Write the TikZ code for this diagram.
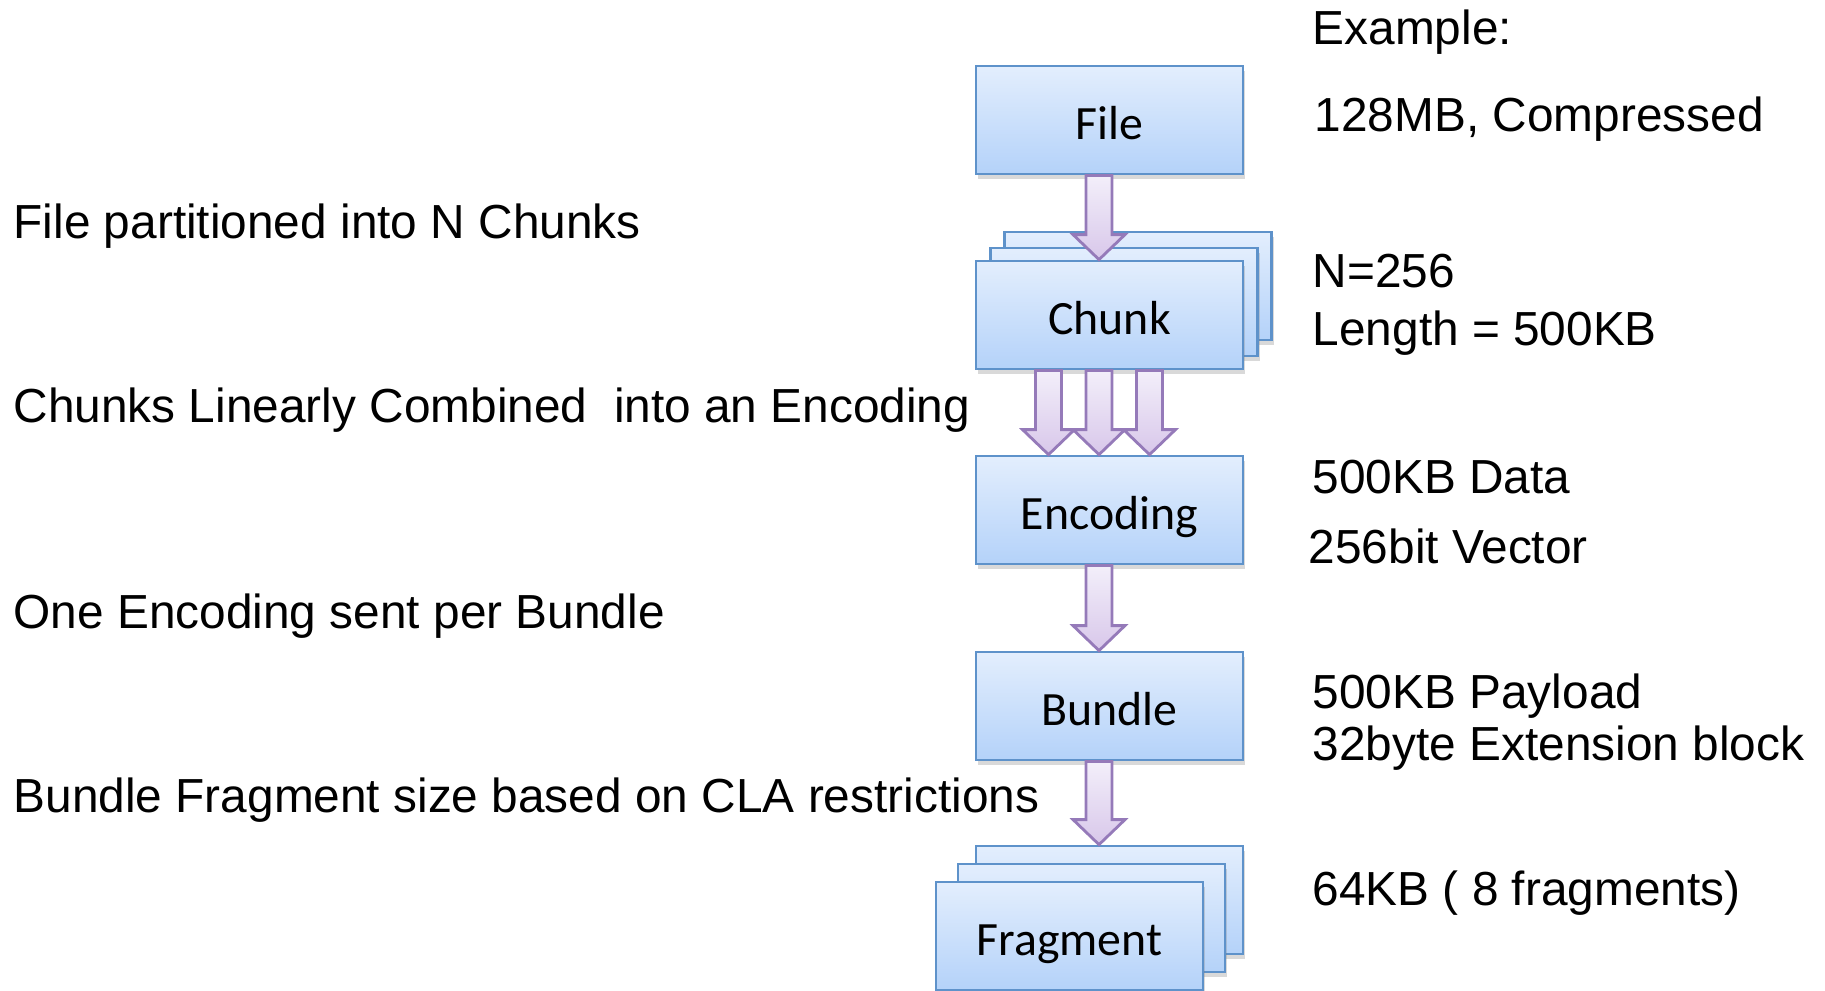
\documentclass[tikz,border=0pt]{standalone}
\usepackage{fontspec}
\setmainfont{Liberation Sans}
\newfontfamily\boxfont{Carlito}
\usetikzlibrary{calc,shadows}

\definecolor{boxtop}{HTML}{E3EEFD}
\definecolor{boxbot}{HTML}{B4D2F9}
\definecolor{boxline}{HTML}{5E92CA}
\definecolor{arrtop}{HTML}{F3EFFA}
\definecolor{arrbot}{HTML}{D8C7EA}
\definecolor{arrline}{HTML}{957AB9}

% fat block arrow from #1 straight down to the level of #2
\newcommand{\blockarrow}[2]{%
  \path[blockarr] let \p1=(#1), \p2=(#2) in
    (\x1-0.13cm,\y1) -- (\x1-0.13cm,\y2+0.25cm) -- (\x1-0.26cm,\y2+0.25cm)
    -- (\x1,\y2) -- (\x1+0.26cm,\y2+0.25cm) -- (\x1+0.13cm,\y2+0.25cm)
    -- (\x1+0.13cm,\y1) -- cycle;}

\begin{document}
\begin{tikzpicture}[
  stage/.style={draw=boxline, line width=0.8pt, top color=boxtop, bottom color=boxbot,
    minimum width=2.67cm, minimum height=1.08cm, inner sep=0pt,
    text height=0.47cm, text depth=0.08cm,
    font=\boxfont\fontsize{13.6pt}{16pt}\selectfont,
    drop shadow={opacity=0.3, shadow xshift=0.6pt, shadow yshift=-1.4pt}},
  blockarr/.style={draw=arrline, line width=0.8pt, top color=arrtop, bottom color=arrbot},
  note/.style={anchor=base west, inner sep=0pt, font=\fontsize{13.6pt}{16pt}\selectfont}]
\useasboundingbox (0,0) rectangle (18.25,-9.90);

% stages
\node[stage] (file) at (11.095,-1.20) {File};
\node[stage] (chunkc) at (11.38,-2.86) {};
\node[stage] (chunkb) at (11.24,-3.02) {};
\node[stage] (chunk) at (11.095,-3.15) {Chunk};
\node[stage] (enc) at (11.095,-5.10) {Encoding};
\node[stage] (bundle) at (11.095,-7.06) {Bundle};
\node[stage] (fragc) at (11.095,-9.00) {};
\node[stage] (fragb) at (10.915,-9.18) {};
\node[stage] (frag) at (10.695,-9.36) {Fragment};

% arrows
\blockarrow{$(file.south)+(-0.105,0)$}{chunk.north}
\blockarrow{$(chunk.south)+(-0.61,0)$}{enc.north}
\blockarrow{$(chunk.south)+(-0.105,0)$}{enc.north}
\blockarrow{$(chunk.south)+(0.40,0)$}{enc.north}
\blockarrow{$(enc.south)+(-0.105,0)$}{bundle.north}
\blockarrow{$(bundle.south)+(-0.105,0)$}{fragc.north}

% steps on the left
\node[note] (txtpart) at (0.13,-2.38) {File partitioned into N Chunks};
\node[note] (txtcomb) at (0.13,-4.22) {Chunks Linearly Combined\ \ into an Encoding};
\node[note] (txtsend) at (0.13,-6.28) {One Encoding sent per Bundle};
\node[note] (txtfrag) at (0.13,-8.12) {Bundle Fragment size based on CLA restrictions};

% example values on the right
\node[note] (exhead) at (13.12,-0.44) {Example:};
\node[note] (exfile) at (13.14,-1.31) {128MB, Compressed};
\node[note] (exn) at (13.12,-2.87) {N=256};
\node[note] (exlen) at (13.12,-3.45) {Length = 500KB};
\node[note] (exdata) at (13.12,-4.93) {500KB Data};
\node[note] (exvec) at (13.08,-5.63) {256bit Vector};
\node[note] (expay) at (13.12,-7.08) {500KB Payload};
\node[note] (exext) at (13.12,-7.60) {32byte Extension block};
\node[note] (exfrag) at (13.12,-9.05) {64KB ( 8 fragments)};
\end{tikzpicture}
\end{document}
